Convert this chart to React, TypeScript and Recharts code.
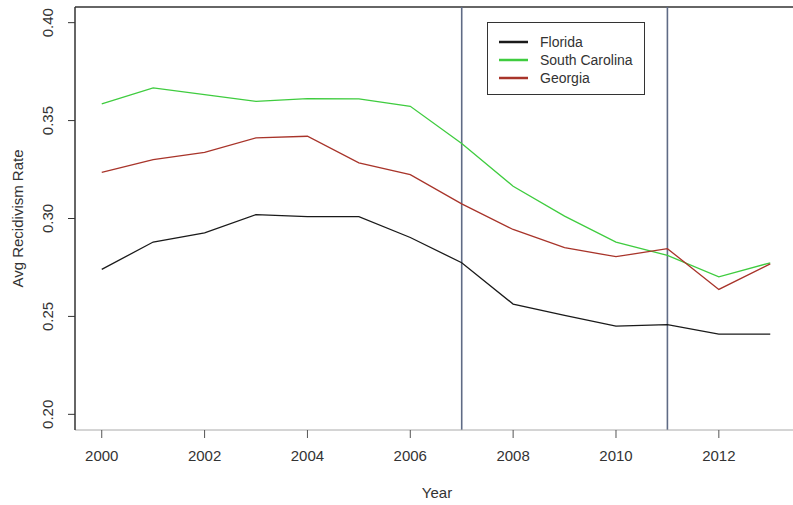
import { LineChart, Line, XAxis, YAxis, ReferenceLine } from "recharts";

const YEARS = [2000, 2001, 2002, 2003, 2004, 2005, 2006, 2007, 2008, 2009, 2010, 2011, 2012, 2013];
const FLORIDA = [0.274, 0.288, 0.2927, 0.302, 0.301, 0.301, 0.2903, 0.2774, 0.2563, 0.2505, 0.245, 0.2458, 0.241, 0.241];
const SOUTH_CAROLINA = [0.3585, 0.3667, 0.3633, 0.3598, 0.3612, 0.3611, 0.3573, 0.3383, 0.3165, 0.3012, 0.2879, 0.2812, 0.2702, 0.2774];
const GEORGIA = [0.3236, 0.3301, 0.3338, 0.3412, 0.342, 0.3284, 0.3224, 0.3075, 0.2944, 0.2851, 0.2805, 0.2846, 0.2638, 0.2768];

const X_TICKS = [2000, 2002, 2004, 2006, 2008, 2010, 2012];
const Y_TICKS = [0.2, 0.25, 0.3, 0.35, 0.4];
const BREAK_YEARS = [2007, 2011];

const SERIES = [
  { key: "florida", name: "Florida", color: "#1a1a1a" },
  { key: "southCarolina", name: "South Carolina", color: "#3fcc3f" },
  { key: "georgia", name: "Georgia", color: "#a8342a" },
];

const FONT = "'Liberation Sans', Arial, sans-serif";

const rows = YEARS.map((year, i) => ({
  year,
  florida: FLORIDA[i],
  southCarolina: SOUTH_CAROLINA[i],
  georgia: GEORGIA[i],
}));

// R-style y tick labels: rotated, parallel to the axis
function YTick({ y, payload }: { y?: number; payload?: { value: number } }) {
  return (
    <text
      transform={`translate(53,${y}) rotate(-90)`}
      textAnchor="middle"
      fontSize={15}
      fontFamily={FONT}
      fill="#333"
    >
      {payload ? payload.value.toFixed(2) : ""}
    </text>
  );
}

// legend drawn as an overlay so it doesn't eat plot space
function LegendBox() {
  return (
    <div
      style={{
        position: "absolute",
        left: 487,
        top: 22,
        width: 158,
        height: 73,
        border: "1.5px solid #333",
        background: "#fff",
        boxSizing: "border-box",
        paddingTop: 10,
        fontFamily: FONT,
        fontSize: 14,
        color: "#333",
      }}
    >
      {SERIES.map((s) => (
        <div key={s.key} style={{ display: "flex", alignItems: "center", height: 18 }}>
          <svg width={52} height={18}>
            <line x1={11} x2={40} y1={9} y2={9} stroke={s.color} strokeWidth={2.5} />
          </svg>
          <span style={{ lineHeight: "18px" }}>{s.name}</span>
        </div>
      ))}
    </div>
  );
}

export default function App() {
  return (
    <div
      style={{
        position: "fixed",
        left: 0,
        top: 0,
        width: 793,
        height: 505,
        overflow: "hidden",
        background: "#fff",
      }}
    >
      <LineChart width={797} height={505} data={rows} margin={{ top: 7, right: 0, bottom: 0, left: 0 }}>
        <XAxis
          dataKey="year"
          type="number"
          domain={[1999.48, 2013.52]}
          ticks={X_TICKS}
          allowDataOverflow
          height={75}
          tickSize={8}
          tickMargin={12}
          stroke="#aaa"
          tickLine={{ stroke: "#555" }}
          tick={{ fontSize: 15, fontFamily: FONT, fill: "#333" }}
          label={(p: { viewBox?: { x: number; width: number } }) => (
            <text
              x={p.viewBox ? p.viewBox.x + p.viewBox.width / 2 + 1 : 436}
              y={498}
              textAnchor="middle"
              fontSize={15}
              fontFamily={FONT}
              fill="#333"
            >
              Year
            </text>
          )}
        />
        <YAxis
          type="number"
          domain={[0.192, 0.408]}
          ticks={Y_TICKS}
          allowDataOverflow
          width={75}
          tickSize={7}
          stroke="#333"
          strokeWidth={1.5}
          tickLine={{ stroke: "#333", strokeWidth: 1 }}
          tick={<YTick />}
          label={(p: { viewBox?: { y: number; height: number } }) => (
            <text
              transform={`translate(23,${p.viewBox ? p.viewBox.y + p.viewBox.height / 2 : 219}) rotate(-90)`}
              textAnchor="middle"
              fontSize={15}
              fontFamily={FONT}
              fill="#333"
            >
              Avg Recidivism Rate
            </text>
          )}
        />
        <ReferenceLine y={0.408} stroke="#333" strokeWidth={1.5} />
        {BREAK_YEARS.map((yr) => (
          <ReferenceLine key={yr} x={yr} stroke="#5f6b85" strokeWidth={1.6} />
        ))}
        {SERIES.map((s) => (
          <Line
            key={s.key}
            type="linear"
            dataKey={s.key}
            name={s.name}
            stroke={s.color}
            strokeWidth={1.3}
            dot={false}
            isAnimationActive={false}
          />
        ))}
      </LineChart>
      <LegendBox />
    </div>
  );
}
